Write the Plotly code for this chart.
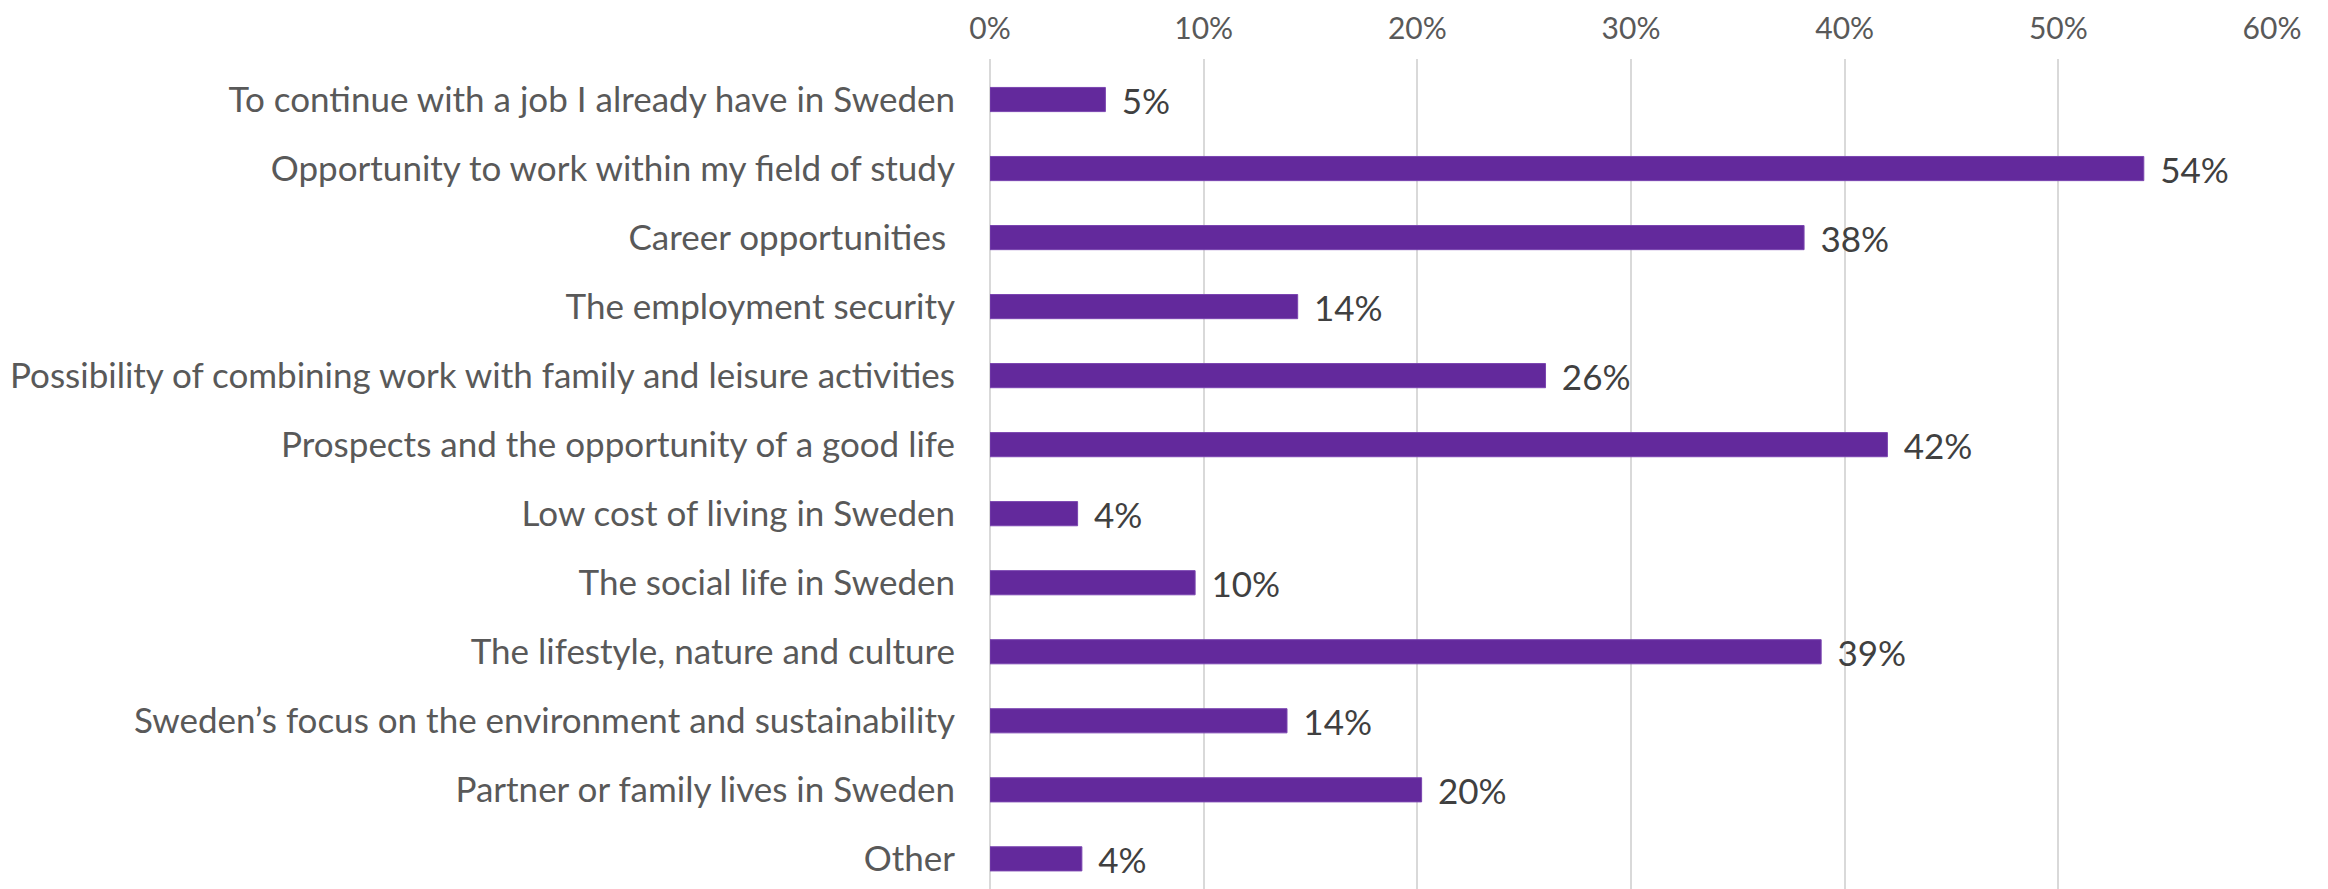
import plotly.graph_objects as go

categories = [
    "To continue with a job I already have in Sweden",
    "Opportunity to work within my field of study",
    "Career opportunities ",
    "The employment security",
    "Possibility of combining work with family and leisure activities",
    "Prospects and the opportunity of a good life",
    "Low cost of living in Sweden",
    "The social life in Sweden",
    "The lifestyle, nature and culture",
    "Sweden\u2019s focus on the environment and sustainability",
    "Partner or family lives in Sweden",
    "Other",
]
values = [5.4, 54.0, 38.1, 14.4, 26.0, 42.0, 4.1, 9.6, 38.9, 13.9, 20.2, 4.3]
tick_vals = [0, 10, 20, 30, 40, 50, 60]
tick_text = ["0%", "10%", "20%", "30%", "40%", "50%", "60%"]

FONT = "Lato"

fig = go.Figure(go.Bar(
    x=values,
    y=categories,
    orientation="h",
    width=0.35,
    marker=dict(color="#63299C", line=dict(color="#7A45B0", width=1)),
    text=values,
    texttemplate="\u00a0\u2009%{x:.0f}%",
    textposition="outside",
    constraintext="none",
    textfont=dict(family=FONT, size=35, color="#404040"),
    cliponaxis=False,
))

fig.update_layout(
    width=2328, height=889,
    margin=dict(l=982, r=64, t=51, b=0),
    plot_bgcolor="white", paper_bgcolor="white",
    showlegend=False,
    bargap=0.65,
)
fig.update_xaxes(
    side="top",
    range=[0, 60],
    tickvals=tick_vals, ticktext=tick_text,
    showgrid=True, gridcolor="#D9D9D9", gridwidth=1.5,
    zeroline=True, zerolinecolor="#D9D9D9", zerolinewidth=1.5,
    showline=False,
    tickfont=dict(family=FONT, size=30, color="#595959"),
    ticklabelstandoff=13,
    automargin=False,
    fixedrange=True,
)
fig.update_yaxes(
    range=[11.553, -0.587],
    showgrid=False, zeroline=False, showline=False,
    tickfont=dict(family=FONT, size=35, color="#595959"),
    ticklabelstandoff=34,
    automargin=False,
    fixedrange=True,
)

fig.write_html("out.html")
